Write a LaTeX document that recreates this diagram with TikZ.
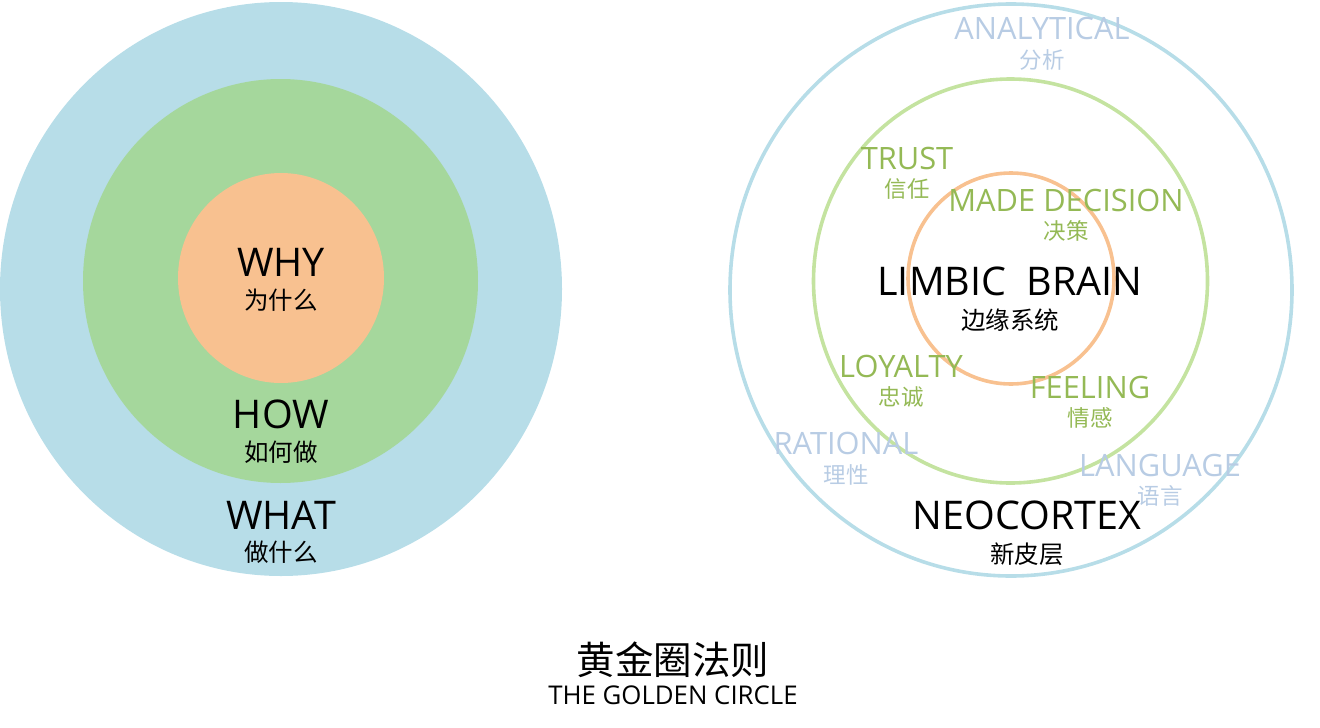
\documentclass[tikz,border=0pt]{standalone}
\usepackage{fontspec}
\setmainfont{Open Sans}
\newfontfamily\cjk{Noto Sans CJK SC}
\definecolor{cblue}{HTML}{B7DDE8}
\definecolor{cgreen}{HTML}{A5D79C}
\definecolor{corange}{HTML}{F8C190}
\definecolor{lgreen}{HTML}{C4E3A0}
\definecolor{tgreen}{HTML}{94B955}
\definecolor{tblue}{HTML}{B8CCE4}
\begin{document}
\begin{tikzpicture}[x=1pt,y=-1pt,
  en/.style={inner sep=0pt, anchor=center, font=\fontsize{39.5}{44}\selectfont},
  zh/.style={inner sep=0pt, anchor=center, font=\cjk\fontsize{24.5}{28}\selectfont},
  gen/.style={inner sep=0pt, anchor=center, text=tgreen, font=\fontsize{30.8}{34}\selectfont},
  gzh/.style={inner sep=0pt, anchor=center, text=tgreen, font=\cjk\fontsize{22.5}{26}\selectfont},
  ben/.style={inner sep=0pt, anchor=center, text=tblue, font=\fontsize{30.8}{34}\selectfont},
  bzh/.style={inner sep=0pt, anchor=center, text=tblue, font=\cjk\fontsize{22.5}{26}\selectfont},
  ring/.style={line width=3.6pt}]
\useasboundingbox (0,0) rectangle (1320,728);
% left golden circle
\fill[cblue] (281,289) ellipse [x radius=281, y radius=287];
\fill[cgreen] (280.5,281) ellipse [x radius=197.5, y radius=202];
\fill[corange] (281,278) ellipse [x radius=103, y radius=105];
\node[en] (why) at (281,262) {WHY};
\node[zh] (whyz) at (281,300) {为什么};
\node[en] (how) at (281,414) {HOW};
\node[zh] (howz) at (281,452) {如何做};
\node[en] (what) at (281,515) {WHAT};
\node[zh] (whatz) at (281,552) {做什么};
% right brain circle
\draw[ring, cblue] (1011,290) ellipse [x radius=281, y radius=286];
\draw[ring, lgreen] (1010.5,281) ellipse [x radius=197, y radius=202];
\draw[ring, corange] (1011,278.5) ellipse [x radius=103, y radius=105.5];
\node[ben] (ana) at (1042,28) {ANALYTICAL};
\node[bzh] (anaz) at (1042,60) {分析};
\node[gen] (trust) at (907,158) {TRUST};
\node[gzh] (trustz) at (907,189) {信任};
\node[gen] (made) at (1066,200) {MADE DECISION};
\node[gzh] (madez) at (1066,231) {决策};
\node[en] (limbic) at (1010,281) {LIMBIC\ \ BRAIN};
\node[zh] (limbicz) at (1010,320) {边缘系统};
\node[gen] (loyal) at (901,366) {LOYALTY};
\node[gzh] (loyalz) at (901,397) {忠诚};
\node[gen] (feel) at (1090,387) {FEELING};
\node[gzh] (feelz) at (1090,418) {情感};
\node[ben] (rat) at (846,443) {RATIONAL};
\node[bzh] (ratz) at (846,475) {理性};
\node[ben] (lang) at (1160,465) {LANGUAGE};
\node[bzh] (langz) at (1160,496) {语言};
\node[en] (neo) at (1027,515) {NEOCORTEX};
\node[zh] (neoz) at (1027,554) {新皮层};
% title
\node[inner sep=0pt, font=\cjk\fontsize{38.5}{42}\selectfont] (title) at (673,660) {黄金圈法则};
\node[inner sep=0pt, font=\fontsize{25.8}{30}\selectfont] (sub) at (673,695) {THE GOLDEN CIRCLE};
\end{tikzpicture}
\end{document}
